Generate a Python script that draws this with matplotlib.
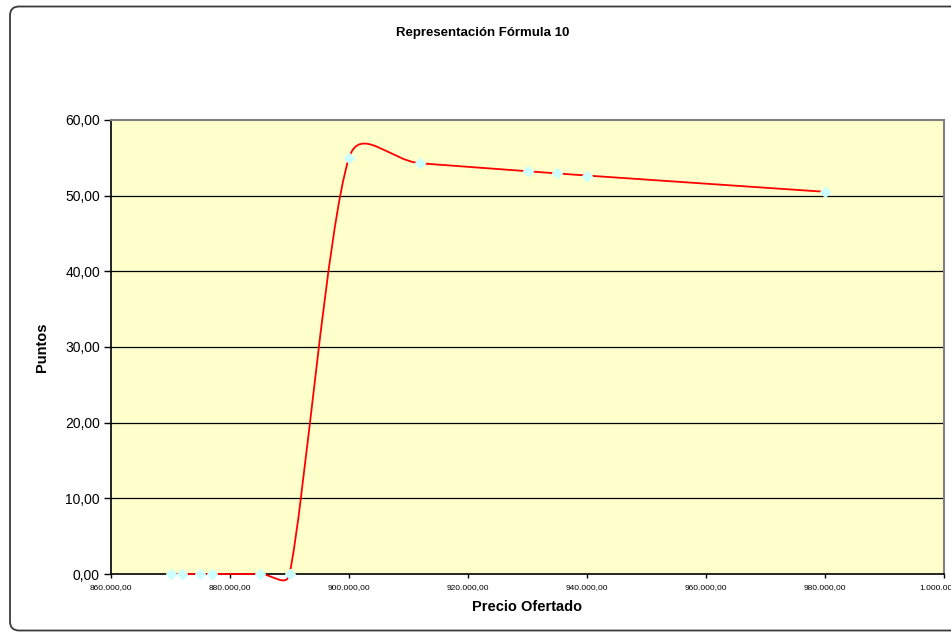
"""
Representación Fórmula 10: puntos frente a precio ofertado,
con la línea suavizada al estilo de Excel.

Outputs: out.png
"""

import numpy as np
import matplotlib
matplotlib.use("Agg")
import matplotlib.pyplot as plt
from matplotlib.path import Path
from matplotlib.patches import PathPatch, FancyBboxPatch
from matplotlib.ticker import FuncFormatter
from matplotlib.transforms import IdentityTransform

plt.rcParams["font.family"] = ["Liberation Sans", "DejaVu Sans"]

# ── Datos ───────────────────────────────────────────────────────────────
precio = [870000, 872000, 875000, 877000, 885000, 890000,
          900000, 912000, 930000, 935000, 940000, 980000]
puntos = [0.0, 0.0, 0.0, 0.0, 0.0, 0.0,
          55.00, 54.28, 53.23, 52.94, 52.66, 50.51]

x_ticks = [860000, 880000, 900000, 920000, 940000, 960000, 980000, 1000000]
y_ticks = [0, 10, 20, 30, 40, 50, 60]


def es_num(v, dec=2):
    """Number in Spanish format: 860.000,00"""
    s = f"{v:,.{dec}f}"
    return s.replace(",", "X").replace(".", ",").replace("X", ".")


def excel_smooth_path(ax, xs, ys):
    """Bezier path through the points, control points as Excel does it
    (Catmull-Rom 1/6, limited to half the segment length in screen space)."""
    pts = ax.transData.transform(np.column_stack([xs, ys]))
    n = len(pts)
    verts = [pts[0]]
    codes = [Path.MOVETO]
    for i in range(n - 1):
        p0 = pts[i - 1] if i > 0 else pts[i]
        p1, p2 = pts[i], pts[i + 1]
        p3 = pts[i + 2] if i + 2 < n else pts[i + 1]
        d12 = np.hypot(*(p2 - p1))
        d02 = np.hypot(*(p2 - p0))
        d13 = np.hypot(*(p3 - p1))
        f = 1 / 6 if d02 / 6 < d12 / 2 else (d12 / 2) / d02
        g = 1 / 6 if d13 / 6 < d12 / 2 else (d12 / 2) / d13
        c1 = p1 + (p2 - p0) * f
        c2 = p2 - (p3 - p1) * g
        verts += [c1, c2, p2]
        codes += [Path.CURVE4] * 3
    verts = ax.transData.inverted().transform(np.array(verts))
    return Path(verts, codes)


fig = plt.figure(figsize=(9.51, 6.32), dpi=100)
W, H = 951, 632

# chart area frame (runs off the right edge like the original)
frame = FancyBboxPatch((10, 1.5), 950, 624,
                       boxstyle="round,pad=0,rounding_size=9",
                       transform=IdentityTransform(), facecolor="white",
                       edgecolor="#3a3a3a", linewidth=1.3, zorder=-5)
fig.patches.append(frame)

left, right, top, bottom = 111, 944, 120, 574
ax = fig.add_axes([left / W, (H - bottom) / H, (right - left) / W, (bottom - top) / H])
ax.set_zorder(1)
ax.set_facecolor("#FFFFCC")
ax.set_xlim(860000, 1000000)
ax.set_ylim(0, 60)

ax.set_yticks(y_ticks)
ax.set_xticks(x_ticks)
ax.yaxis.set_major_formatter(FuncFormatter(lambda v, _: es_num(v)))
ax.xaxis.set_major_formatter(FuncFormatter(lambda v, _: es_num(v)))
ax.tick_params(axis="y", labelsize=10, length=5, width=1, direction="out", pad=3)
ax.tick_params(axis="x", labelsize=6, length=3, width=1, direction="out", pad=4)

for v in y_ticks[1:-1]:
    ax.axhline(v, color="black", linewidth=0.9, zorder=1)

for side in ("top", "right"):
    ax.spines[side].set_color("#808080")
    ax.spines[side].set_linewidth(1.5)
for side in ("left", "bottom"):
    ax.spines[side].set_color("black")
    ax.spines[side].set_linewidth(1.2)

# smoothed red line
curve = PathPatch(excel_smooth_path(ax, precio, puntos), facecolor="none",
                  edgecolor="red", linewidth=1.3, zorder=3, clip_on=False)
ax.add_patch(curve)
ax.plot(precio, puntos, linestyle="none", marker="D", markersize=5,
        markerfacecolor="#CCFFFF", markeredgecolor="#CCFFFF",
        zorder=4, clip_on=False)

fig.text(483 / W, 1 - 33 / H, "Representación Fórmula 10", ha="center",
         va="center", fontsize=9.5, fontweight="bold")
fig.text(527 / W, 1 - 607 / H, "Precio Ofertado", ha="center", va="center",
         fontsize=10.5, fontweight="bold")
fig.text(42 / W, 1 - 347 / H, "Puntos", ha="center", va="center",
         rotation=90, fontsize=10.5, fontweight="bold")

fig.savefig("out.png", dpi=100)
